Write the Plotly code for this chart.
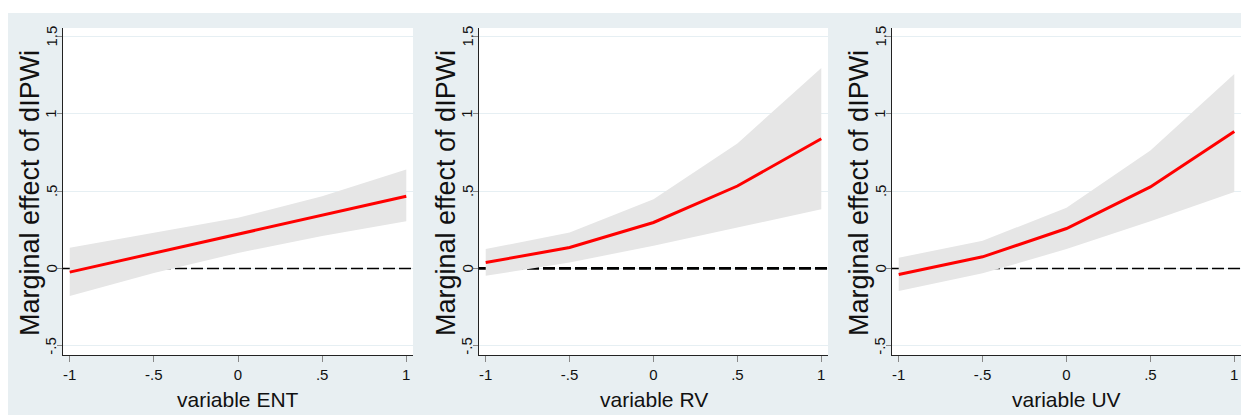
import plotly.graph_objects as go

# Data
x_vals = [-1, -0.5, 0, 0.5, 1]

ent_effect = [-0.024, 0.098, 0.22, 0.343, 0.467]
ent_upper = [0.133, 0.23, 0.327, 0.467, 0.64]
ent_lower = [-0.178, -0.03, 0.10, 0.21, 0.305]

rv_effect = [0.038, 0.135, 0.297, 0.533, 0.839]
rv_upper = [0.125, 0.232, 0.447, 0.808, 1.296]
rv_lower = [-0.048, 0.039, 0.146, 0.265, 0.382]

uv_effect = [-0.039, 0.075, 0.258, 0.527, 0.886]
uv_upper = [0.069, 0.179, 0.392, 0.763, 1.258]
uv_lower = [-0.146, -0.032, 0.125, 0.305, 0.495]

x_titles = ["variable ENT", "variable RV", "variable UV"]
y_title = "Marginal effect of dIPWi"
x_tickvals = [-1, -0.5, 0, 0.5, 1]
x_ticktext = ["-1", "-.5", "0", ".5", "1"]
y_tickvals = [-0.5, 0, 0.5, 1, 1.5]
y_ticktext = ["-.5", "0", ".5", "1", "1.5"]

# page layout: white strip of 13px at top and 8px at left, figure fills the rest
OFF_X, OFF_Y = 8, 13
W, H = 1241 - OFF_X, 415 - OFF_Y
BG = "#e8eff2"
GRID = "#e6eff3"
CI = "#e6e6e6"

panels = [
    (ent_effect, ent_upper, ent_lower, 1.5),
    (rv_effect, rv_upper, rv_lower, 2.6),
    (uv_effect, uv_upper, uv_lower, 1.5),
]
# plot-area pixel boxes in page coordinates (left, right) and y-title centre x
boxes = [(63, 413), (479, 828), (892, 1241)]
ytitle_x = [30, 446, 859]
top_px, bot_px = 28, 355


def px(xp):
    return (xp - OFF_X) / W


def py(yp):
    return 1 - (yp - OFF_Y) / H


fig = go.Figure()
font_fam = "Liberation Sans, Arial, sans-serif"
annotations = []

for i, ((eff, up, lo, dash_w), (l, r)) in enumerate(zip(panels, boxes)):
    n = i + 1
    xa = "x" if n == 1 else f"x{n}"
    ya = "y" if n == 1 else f"y{n}"
    # zero reference line (dashed) across range; CI area drawn above it
    fig.add_trace(go.Scatter(
        x=[-1.04, 1.04], y=[0, 0], mode="lines",
        line=dict(color="black", width=dash_w, dash="12px,4px"),
        xaxis=xa, yaxis=ya, showlegend=False, hoverinfo="skip"))
    fig.add_trace(go.Scatter(
        x=x_vals + x_vals[::-1], y=up + lo[::-1], mode="lines",
        fill="toself", fillcolor=CI, line=dict(width=0, color=CI),
        xaxis=xa, yaxis=ya, showlegend=False, hoverinfo="skip"))
    fig.add_trace(go.Scatter(
        x=x_vals, y=eff, mode="lines",
        line=dict(color="#ff0000", width=3),
        xaxis=xa, yaxis=ya, showlegend=False))

    xkey = "xaxis" if n == 1 else f"xaxis{n}"
    ykey = "yaxis" if n == 1 else f"yaxis{n}"
    fig.update_layout(**{
        xkey: dict(
            domain=[px(l), min(px(r), 1)], anchor=ya, range=[-1.04, 1.04],
            tickvals=x_tickvals, ticktext=x_ticktext,
            showgrid=False, zeroline=False,
            showline=True, linecolor="#222222", linewidth=1.2,
            ticks="outside", ticklen=6, tickcolor="#888888", tickwidth=1,
            tickfont=dict(family=font_fam, size=15, color="#111111"),
        ),
        ykey: dict(
            domain=[py(bot_px), py(top_px)], anchor=xa,
            range=[-0.56, 1.555],
            tickvals=y_tickvals, showticklabels=False,
            showgrid=True, gridcolor=GRID, gridwidth=1, zeroline=False,
            showline=True, linecolor="#222222", linewidth=1.2,
            ticks="outside", ticklen=5, tickcolor="#888888", tickwidth=1,
        ),
    })
    # rotated y tick labels, placed on the y axis scale
    for v, t in zip(y_tickvals, y_ticktext):
        annotations.append(dict(
            text=t, xref="paper", yref=ya, x=px(l - 12), y=v,
            textangle=-90, xanchor="center", yanchor="middle",
            showarrow=False,
            font=dict(family=font_fam, size=15, color="#111111")))
    annotations.append(dict(
        text=x_titles[i], xref="paper", yref="paper",
        x=px((l + r) / 2), y=py(399), xanchor="center", yanchor="middle",
        showarrow=False, font=dict(family=font_fam, size=21, color="#111111")))
    annotations.append(dict(
        text=y_title, xref="paper", yref="paper", textangle=-90,
        x=px(ytitle_x[i]), y=py(193), xanchor="center", yanchor="middle",
        showarrow=False, font=dict(family=font_fam, size=27, color="#111111")))

fig.update_layout(
    width=W, height=H,
    margin=dict(l=0, r=0, t=0, b=0),
    paper_bgcolor=BG, plot_bgcolor="white",
    annotations=annotations,
)

fig.write_html(
    "out.html",
    config={"displayModeBar": False},
    post_script=(
        "document.body.style.margin='0';document.body.style.padding='0';"
        "document.body.style.background='white';"
        "var gd=document.getElementById('{plot_id}');"
        "gd.style.marginTop='13px';gd.style.marginLeft='8px';"
    ),
)
